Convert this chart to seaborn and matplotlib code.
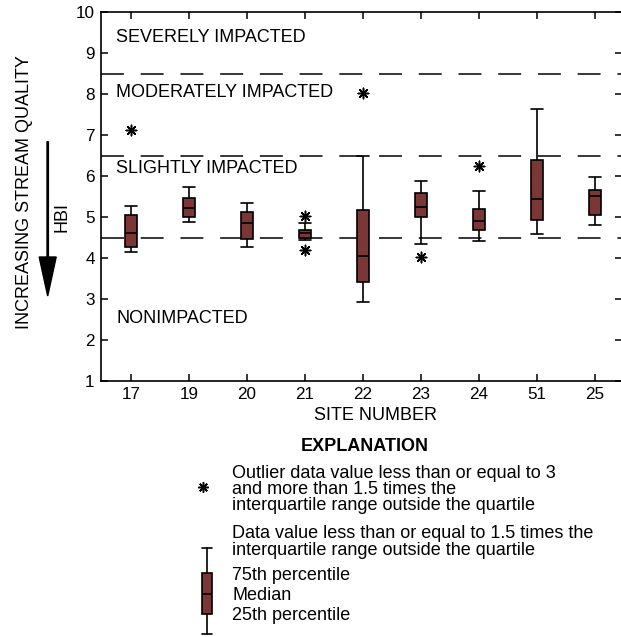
import numpy as np
import pandas as pd
import matplotlib
matplotlib.use("Agg")
import matplotlib.pyplot as plt
import seaborn as sns

# HBI values: whisker low, 25th, median, 75th, whisker high
sites = ["17", "19", "20", "21", "22", "23", "24", "51", "25"]
whisker_low = [4.15, 4.87, 4.27, 4.44, 2.93, 4.35, 4.41, 4.59, 4.81]
q25 = [4.28, 4.99, 4.46, 4.50, 3.41, 5.01, 4.69, 4.93, 5.05]
median = [4.62, 5.21, 4.86, 4.60, 4.06, 5.25, 4.91, 5.44, 5.51]
q75 = [5.05, 5.46, 5.11, 4.69, 5.18, 5.59, 5.19, 6.39, 5.67]
whisker_high = [5.27, 5.72, 5.35, 4.86, 6.49, 5.88, 5.63, 7.63, 5.98]

outlier_sites = ["17", "21", "21", "22", "23", "24"]
outlier_values = [7.11, 5.02, 4.20, 8.03, 4.02, 6.25]

# impact class boundaries and labels
boundaries = [4.5, 6.5, 8.5]
zone_labels = ["SEVERELY IMPACTED", "MODERATELY IMPACTED", "SLIGHTLY IMPACTED", "NONIMPACTED"]
zone_label_y = [9.28, 7.92, 6.07, 2.42]

rows = []
for i, s in enumerate(sites):
    for v in (whisker_low[i], q25[i], median[i], q75[i], whisker_high[i]):
        rows.append({"site": s, "hbi": v})
df = pd.DataFrame(rows)
df_out = pd.DataFrame({"site": outlier_sites, "hbi": outlier_values})

sns.set_style("ticks")
plt.rcParams["font.family"] = ["Liberation Sans", "DejaVu Sans"]
plt.rcParams.update({"text.color": "black", "axes.labelcolor": "black",
                     "xtick.color": "black", "ytick.color": "black",
                     "axes.edgecolor": "black"})

W, H = 621, 637
fig = plt.figure(figsize=(W / 100, H / 100), dpi=100)
# main axes placed in pixel terms
left, right, top, bottom = 101, 622, 12, 381
ax = fig.add_axes([left / W, 1 - bottom / H, (right - left) / W, (bottom - top) / H])

box_color = "#7b3636"
sns.boxplot(data=df, x="site", y="hbi", order=sites, ax=ax, whis=(0, 100),
            width=0.2, color=box_color, saturation=1, showfliers=False,
            linecolor="black", linewidth=1.2, capwidths=0.2,
            medianprops={"color": "black", "linewidth": 1.2})
star = (8, 2, 0)
sns.stripplot(data=df_out, x="site", y="hbi", order=sites, ax=ax, jitter=False,
              color="black", marker=star, size=7.5, linewidth=1.1, zorder=5)

for b in boundaries:
    ax.axhline(b, color="black", lw=1.1, linestyle=(0, (15, 11)), zorder=0.5)

for lab, yv in zip(zone_labels, zone_label_y):
    ax.text(-0.26, yv, lab, fontsize=13, va="baseline", ha="left")

ax.set_xlim(-0.52, 8.47)
ax.set_ylim(1, 10)
ax.set_yticks(range(1, 11))
ax.set_xlabel("")
ax.set_ylabel("")
ax.tick_params(axis="both", direction="in", length=5, width=1.1, labelsize=12.3,
               top=True, right=True, colors="black")
ax.tick_params(axis="y", pad=4.5)
ax.tick_params(axis="x", pad=4)
for sp in ax.spines.values():
    sp.set_visible(True)
    sp.set_linewidth(1.2)
    sp.set_color("black")

# overlay axes in pixel coordinates for labels and the explanation
ov = fig.add_axes([0, 0, 1, 1])
ov.set_xlim(0, W)
ov.set_ylim(H, 0)
ov.axis("off")
ov.patch.set_alpha(0)

ov.text(375, 416, "SITE NUMBER", fontsize=13, ha="center", va="center")
ov.text(25, 192, "INCREASING STREAM QUALITY", fontsize=13, rotation=90,
        ha="center", va="center")
ov.text(61.7, 216.7, "HBI", fontsize=13, rotation=90, ha="center", va="center")
ov.arrow(47.7, 141.7, 0, 154.3, width=1.4, head_width=17, head_length=39,
         length_includes_head=True, color="black")

ov.text(364.5, 446.5, "EXPLANATION", fontsize=13, fontweight="bold",
        ha="center", va="center")
ov.plot([202.7], [486.7], marker=star, ms=7.5, mew=1.1, color="black",
        linestyle="none")

# explanation text blocks: (lines, top of first line, line spacing)
expl_blocks = [
    ("Outlier data value less than or equal to 3\nand more than 1.5 times the\n"
     "interquartile range outside the quartile", 465.5, 0.91),
    ("Data value less than or equal to 1.5 times the\n"
     "interquartile range outside the quartile", 525.5, 0.93),
    ("75th percentile\nMedian\n25th percentile", 567.1, 1.23),
]
for txt, ytop, ls in expl_blocks:
    ov.text(232.5, ytop, txt, fontsize=13, ha="left", va="top", linespacing=ls)

stats = [{"med": 593.7, "q1": 573.3, "q3": 614, "whislo": 547.7, "whishi": 634.3, "fliers": []}]
ov.bxp(stats, positions=[207.3], widths=10, capwidths=10, patch_artist=True,
       showfliers=False, manage_ticks=False,
       boxprops={"facecolor": box_color, "edgecolor": "black", "linewidth": 1.2},
       medianprops={"color": "black", "linewidth": 1.2},
       whiskerprops={"color": "black", "linewidth": 1.2},
       capprops={"color": "black", "linewidth": 1.2})
ov.axis("off")

fig.savefig("out.png", dpi=100)
